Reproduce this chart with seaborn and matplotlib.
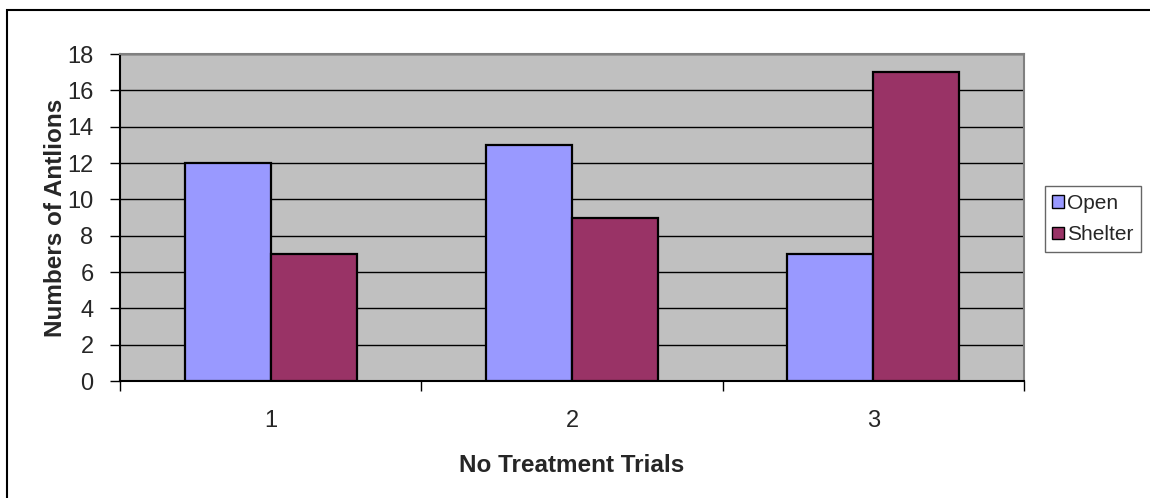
import matplotlib
matplotlib.use("Agg")
import matplotlib.pyplot as plt
import seaborn as sns
import pandas as pd
from matplotlib.patches import Rectangle, Patch

trials = ["1", "2", "3"]
open_vals = [12, 13, 7]
shelter_vals = [7, 9, 17]
series = ["Open", "Shelter"]
colors = ["#9999FF", "#993366"]

df = pd.DataFrame({
    "Trial": trials * 2,
    "Count": open_vals + shelter_vals,
    "Series": ["Open"] * 3 + ["Shelter"] * 3,
})

sns.set_style("white")
plt.rcParams["font.family"] = ["Liberation Sans", "DejaVu Sans"]

fig = plt.figure(figsize=(11.5, 4.98), dpi=100)
ax = fig.add_axes([120/1150, (498-381)/498, 904/1150, 327/498])
ax.set_facecolor("#C0C0C0")

sns.barplot(data=df, x="Trial", y="Count", hue="Series", palette=colors,
            saturation=1, width=0.571, edgecolor="black", linewidth=1.6,
            ax=ax, legend=False, zorder=3)

ax.set_ylim(0, 18)
ax.set_yticks(range(0, 19, 2))
ax.set_xlim(-0.5, 2.5)
ax.yaxis.grid(True, color="black", linewidth=1.0, zorder=0)
ax.set_axisbelow(True)

for s in ["top", "right"]:
    ax.spines[s].set_color("#808080")
    ax.spines[s].set_linewidth(1.5)
for s in ["left", "bottom"]:
    ax.spines[s].set_color("black")
    ax.spines[s].set_linewidth(1.5)

ax.tick_params(axis="y", length=7, width=1, direction="out", left=True,
               labelsize=17, pad=12, color="black")
ax.set_xticks([-0.5, 0.5, 1.5, 2.5], minor=True)
ax.tick_params(axis="x", which="minor", length=7, width=1, bottom=True, color="black")
ax.tick_params(axis="x", which="major", length=0, labelsize=17, pad=21)

ax.set_xlabel("No Treatment Trials", fontsize=17.5, fontweight="bold", labelpad=16)
ax.set_ylabel("Numbers of Antlions", fontsize=17.5, fontweight="bold", labelpad=0)

handles = [Patch(facecolor=c, edgecolor="black", linewidth=1.0) for c in colors]
leg = fig.legend(handles, series, loc="center left",
                 bbox_to_anchor=(1045/1150, (498-219)/498),
                 fontsize=15, handlelength=0.55, handleheight=0.55,
                 handletextpad=0.15, labelspacing=0.6, borderpad=0.35,
                 borderaxespad=0, frameon=True, fancybox=False)
leg.get_frame().set_edgecolor("#404040")
leg.get_frame().set_linewidth(1.0)

fig.patches.append(Rectangle((7/1150, -0.5), 2.0, (498-10)/498 + 0.5,
                             transform=fig.transFigure, fill=False,
                             edgecolor="black", linewidth=1.5))

fig.savefig("out.png", dpi=100, facecolor="white")
